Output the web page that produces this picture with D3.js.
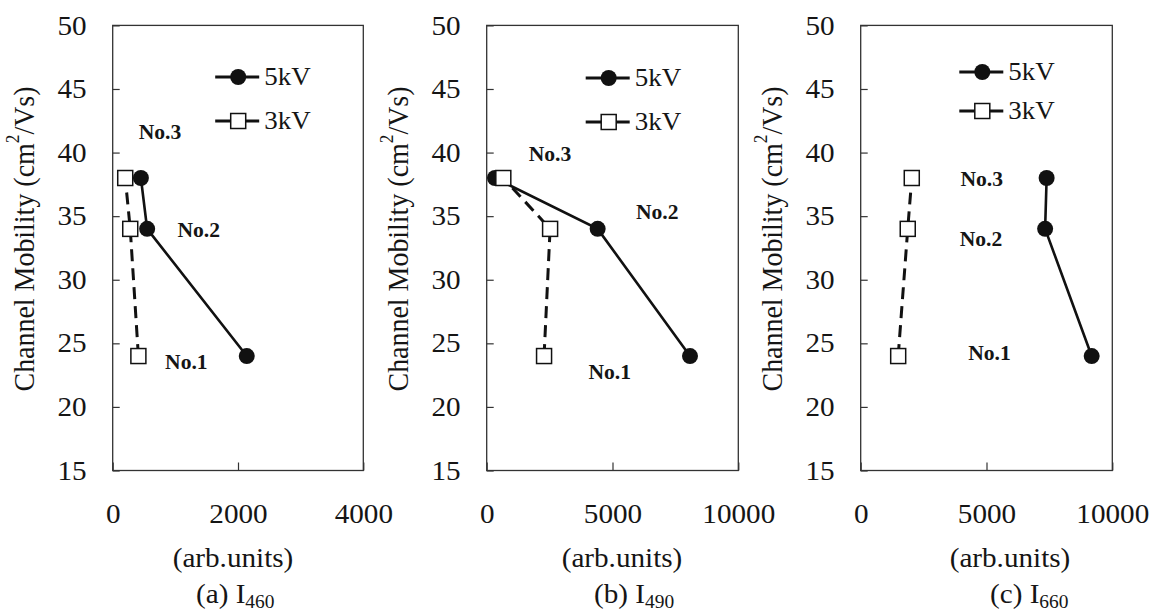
<!DOCTYPE html>
<html><head><meta charset="utf-8">
<script src="https://cdn.jsdelivr.net/npm/d3@7"></script>
<style>body{margin:0;background:#fff}</style>
</head><body><svg id="c" width="1151" height="615"></svg>
<script>
// ---------- data ----------
const samples = ["No.1", "No.2", "No.3"];
const mobility = [24, 34, 38];
const yTicks = [15, 20, 25, 30, 35, 40, 45, 50];
const xTicksA = [0, 2000, 4000];
const xTicksBC = [0, 5000, 10000];
const i460_5kV = [2140, 550, 450];
const i460_3kV = [410, 280, 200];
const i490_5kV = [8080, 4410, 330];
const i490_3kV = [2280, 2520, 660];
const i660_5kV = [9180, 7330, 7390];
const i660_3kV = [1490, 1870, 2030];
const seriesNames = ["5kV", "3kV"];
const yTitle = ["Channel Mobility (cm", "2", "/Vs)"];
const xTitle = "(arb.units)";
const captions = [["(a) I", "460"], ["(b) I", "490"], ["(c) I", "660"]];
// sample label anchors (data units: intensity, mobility)
const labelPosA = [[1175, 23.5], [1373, 33.9], [755, 41.6]];
const labelPosB = [[4889, 22.7], [6777, 35.3], [2516, 39.9]];
const labelPosC = [[5119, 24.2], [4781, 33.2], [4809, 37.9]];

// ---------- layout ----------
const FONT = '"Liberation Serif", "Times New Roman", "DejaVu Serif", serif';
const SX = 1.08; // horizontal text stretch
const plotTop = 25.4, plotBottom = 470.5;
const panels = [
  {left: 112.7, right: 363.3, xMax: 4000, ticks: xTicksA, s5: i460_5kV, s3: i460_3kV, lab: labelPosA, legX: 102.5, legY: [77, 121], titleX: 233, capX: 196},
  {left: 486.7, right: 738.3, xMax: 10000, ticks: xTicksBC, s5: i490_5kV, s3: i490_3kV, lab: labelPosB, legX: 99, legY: [78, 122], titleX: 622, capX: 594},
  {left: 860.7, right: 1112.3, xMax: 10000, ticks: xTicksBC, s5: i660_5kV, s3: i660_3kV, lab: labelPosC, legX: 98.6, legY: [72, 111], titleX: 1010, capX: 990}
];

const svg = d3.select("#c");
const y = d3.scaleLinear().domain([15, 50]).range([plotBottom, plotTop]);

function font(sel, size, weight) {
  sel.style("font-family", FONT).style("font-size", size + "px").style("fill", "#151515");
  if (weight) sel.style("font-weight", weight);
  return sel;
}

panels.forEach((p, pi) => {
  const g = svg.append("g");
  const x = d3.scaleLinear().domain([0, p.xMax]).range([p.left, p.right]);

  // y axis
  const ya = g.append("g").attr("transform", `translate(${p.left},0)`)
    .call(d3.axisLeft(y).tickValues(yTicks).tickSize(-7).tickPadding(26).tickFormat(d3.format("d")));
  ya.select(".domain").remove();
  ya.selectAll("line").attr("stroke", "#333").attr("stroke-width", 1.2);
  font(ya.selectAll("text"), 27);
  ya.selectAll("text").each(function () {
    const t = d3.select(this);
    const xx = +t.attr("x");
    t.attr("x", null).attr("transform", `translate(${xx},0) scale(${SX},1)`);
  });

  // x axis
  const xa = g.append("g").attr("transform", `translate(0,${plotBottom})`)
    .call(d3.axisBottom(x).tickValues(p.ticks).tickSize(-8).tickPadding(33).tickFormat(d3.format("d")));
  xa.select(".domain").remove();
  xa.selectAll("line").attr("stroke", "#333").attr("stroke-width", 1.2);
  font(xa.selectAll("text"), 27);
  xa.selectAll("text").each(function () {
    const t = d3.select(this);
    const yy = +t.attr("y");
    t.attr("y", null).attr("transform", `translate(0,${yy}) scale(${SX},1)`);
  });

  // frame
  g.append("rect").attr("x", p.left).attr("y", plotTop)
    .attr("width", p.right - p.left).attr("height", plotBottom - plotTop)
    .attr("fill", "none").attr("stroke", "#333").attr("stroke-width", 1.3);

  // y title
  const yt = g.append("text")
    .attr("transform", `translate(${p.left - 89.4},239) rotate(-90) scale(1,${SX})`)
    .attr("text-anchor", "middle").attr("dominant-baseline", "central")
    .attr("textLength", 305).attr("lengthAdjust", "spacingAndGlyphs");
  font(yt, 27.5);
  yt.append("tspan").text(yTitle[0]);
  yt.append("tspan").text(yTitle[1]).style("font-size", "17px").attr("dy", -10);
  yt.append("tspan").text(yTitle[2]).attr("dy", 10);

  // x title
  font(g.append("text").attr("text-anchor", "middle")
    .attr("transform", `translate(${p.titleX},567) scale(${SX},1)`).text(xTitle), 27);

  // caption
  const cap = g.append("text")
    .attr("transform", `translate(${p.capX},603) scale(${SX},1)`);
  font(cap, 27);
  cap.append("tspan").text(captions[pi][0]);
  cap.append("tspan").text(captions[pi][1]).style("font-size", "18px").attr("dy", 5);

  // lines
  const line = d3.line().x(d => x(d[0])).y(d => y(d[1]));
  const d3kV = p.s3.map((v, i) => [v, mobility[i]]);
  const d5kV = p.s5.map((v, i) => [v, mobility[i]]);
  g.append("path").datum(d3kV).attr("d", line).attr("fill", "none")
    .attr("stroke", "#111").attr("stroke-width", 3).attr("stroke-dasharray", "12,7");
  g.append("path").datum(d5kV).attr("d", line).attr("fill", "none")
    .attr("stroke", "#111").attr("stroke-width", 2.6);

  // markers
  g.selectAll(".c5").data(d5kV).join("circle")
    .attr("cx", d => x(d[0])).attr("cy", d => y(d[1])).attr("r", 8).attr("fill", "#111");
  const sq = 15;
  g.selectAll(".s3").data(d3kV).join("rect")
    .attr("x", d => x(d[0]) - sq / 2).attr("y", d => y(d[1]) - sq / 2)
    .attr("width", sq).attr("height", sq)
    .attr("fill", "#fff").attr("stroke", "#111").attr("stroke-width", 1.5);

  // sample labels
  font(g.selectAll(".lab").data(p.lab).join("text")
    .attr("text-anchor", "middle").attr("dominant-baseline", "central")
    .attr("transform", (d) => `translate(${x(d[0])},${y(d[1])}) scale(${SX},1)`)
    .text((d, i) => samples[i]), 20, "bold");

  // legend
  const lx = p.left + p.legX;
  seriesNames.forEach((name, k) => {
    const ly = p.legY[k];
    g.append("line").attr("x1", lx).attr("x2", lx + 44).attr("y1", ly).attr("y2", ly)
      .attr("stroke", "#111").attr("stroke-width", 3);
    if (k === 0) {
      g.append("circle").attr("cx", lx + 23).attr("cy", ly).attr("r", 8).attr("fill", "#111");
    } else {
      g.append("rect").attr("x", lx + 23 - sq / 2).attr("y", ly - sq / 2).attr("width", sq).attr("height", sq)
        .attr("fill", "#fff").attr("stroke", "#111").attr("stroke-width", 1.5);
    }
    font(g.append("text").attr("dominant-baseline", "central")
      .attr("transform", `translate(${lx + 49},${ly}) scale(${SX},1)`).text(name), 25);
  });
});
</script></body></html>
